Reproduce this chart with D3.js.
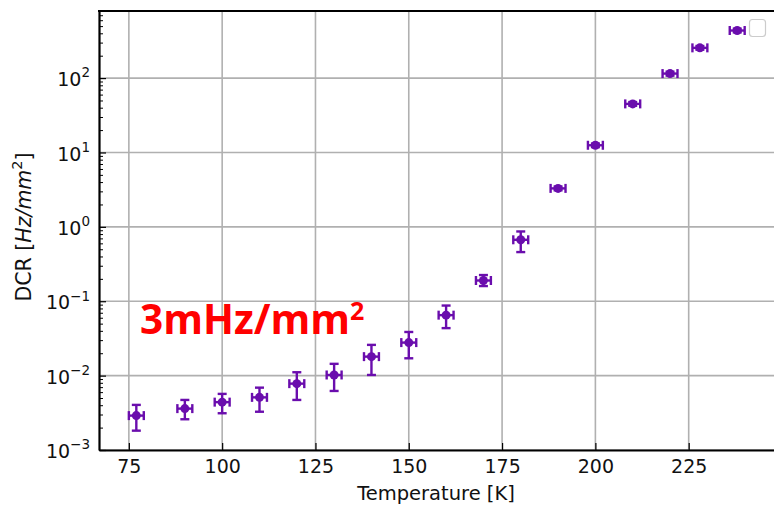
<!DOCTYPE html>
<html>
<head>
<meta charset="utf-8">
<script src="https://cdn.jsdelivr.net/npm/d3@7"></script>
<style>
  body { margin: 0; background: #fff; }
  svg { display: block; font-family: "DejaVu Sans", sans-serif; }
</style>
</head>
<body>
<div id="chart"></div>
<script>
// data
const temps = [77, 90, 100, 110, 120, 130, 140, 150, 160, 170, 180, 190, 200, 210, 220, 228, 238];
const dcr = [0.0029, 0.0036, 0.0044, 0.0051, 0.0078, 0.0102, 0.018, 0.0278, 0.065, 0.19, 0.67, 3.29, 12.5, 45, 115, 255, 436];
const dcrLow = [0.00182, 0.00259, 0.00312, 0.00327, 0.00471, 0.00622, 0.0102, 0.0171, 0.0435, 0.16, 0.458, 3.1, 11.8, 42.5, 108, 241, 412];
const dcrHigh = [0.00404, 0.00471, 0.00568, 0.00689, 0.0111, 0.0144, 0.0259, 0.0386, 0.0875, 0.225, 0.867, 3.48, 13.2, 47.6, 122, 270, 461];
const tempErr = [2, 2, 2, 2, 2, 2, 2, 2, 2, 2, 2, 2, 2, 2, 2, 2, 2];

const xTicks = [75, 100, 125, 150, 175, 200, 225];
const yTicks = [1e-3, 1e-2, 1e-1, 1e0, 1e1, 1e2];
const yExps = ["\u22123", "\u22122", "\u22121", "0", "1", "2"];

const width = 774, height = 505;
const plotLeft = 99, plotTop = 11, plotBottom = 450;
const purple = "#6a0dad";

const svg = d3.select("#chart")
    .append("svg")
    .attr("width", width)
    .attr("height", height);

const x = d3.scaleLinear().domain([67, 250]).range([plotLeft, 782]);
const y = d3.scaleLog().domain([1e-3, 798]).range([plotBottom, plotTop]);

//grid
svg.append("g")
    .selectAll("line")
    .data(xTicks)
    .enter()
    .append("line")
    .attr("x1", d => x(d)).attr("x2", d => x(d))
    .attr("y1", plotTop).attr("y2", plotBottom)
    .attr("stroke", "#b0b0b0")
    .attr("stroke-width", 1.6);

svg.append("g")
    .selectAll("line")
    .data(yTicks)
    .enter()
    .append("line")
    .attr("x1", plotLeft).attr("x2", width)
    .attr("y1", d => y(d)).attr("y2", d => y(d))
    .attr("stroke", "#b0b0b0")
    .attr("stroke-width", 1.6);

//x axis
const xAxis = svg.append("g")
    .attr("transform", `translate(0,${plotBottom})`)
    .call(d3.axisBottom(x)
        .tickValues(xTicks)
        .tickSize(-7)
        .tickSizeOuter(0)
        .tickPadding(10));
xAxis.select(".domain").attr("stroke-width", 2.2);
xAxis.selectAll(".tick line").attr("stroke-width", 1.2);
xAxis.selectAll("text")
    .attr("font-size", "19px")
    .attr("font-family", "DejaVu Sans")
    .attr("fill", "#111");

//y axis minor ticks
const minor = [];
for (let e = -3; e <= 2; e++) {
    for (let m = 2; m <= 9; m++) {
        const v = m * Math.pow(10, e);
        if (v <= 798) minor.push(v);
    }
}
svg.append("g")
    .attr("transform", `translate(${plotLeft},0)`)
    .call(d3.axisLeft(y).tickValues(minor).tickSize(-4).tickSizeOuter(0).tickFormat(""))
    .call(g => g.select(".domain").remove())
    .selectAll(".tick line").attr("stroke-width", 1);

//y axis major
const yAxis = svg.append("g")
    .attr("transform", `translate(${plotLeft},0)`)
    .call(d3.axisLeft(y)
        .tickValues(yTicks)
        .tickSize(-7)
        .tickSizeOuter(0)
        .tickPadding(9)
        .tickFormat(""));
yAxis.select(".domain").attr("stroke-width", 2.2);
yAxis.selectAll(".tick line").attr("stroke-width", 1.2);
yAxis.selectAll(".tick text")
    .attr("font-size", "19px")
    .attr("font-family", "DejaVu Sans")
    .attr("fill", "#111")
    .attr("dy", "0.4em")
    .each(function (d, i) {
        const t = d3.select(this);
        t.append("tspan").text("10");
        t.append("tspan").attr("font-size", "13.5px").attr("dy", "-0.65em").text(yExps[i]);
    });

//top spine
svg.append("line")
    .attr("x1", plotLeft - 1).attr("x2", width)
    .attr("y1", plotTop).attr("y2", plotTop)
    .attr("stroke", "#000")
    .attr("stroke-width", 2.2);

//error bars
const pts = temps.map((t, i) => ({t: t, v: dcr[i], lo: dcrLow[i], hi: dcrHigh[i], te: tempErr[i]}));
const eb = svg.append("g")
    .attr("stroke", purple)
    .attr("stroke-width", 2.4);

pts.forEach(function (d) {
    const cx = x(d.t), cy = y(d.v);
    const g = eb.append("g");
    g.append("line").attr("x1", cx).attr("x2", cx).attr("y1", y(d.lo)).attr("y2", y(d.hi));
    g.append("line").attr("x1", cx - 4.5).attr("x2", cx + 4.5).attr("y1", y(d.lo)).attr("y2", y(d.lo));
    g.append("line").attr("x1", cx - 4.5).attr("x2", cx + 4.5).attr("y1", y(d.hi)).attr("y2", y(d.hi));
    g.append("line").attr("x1", x(d.t - d.te)).attr("x2", x(d.t + d.te)).attr("y1", cy).attr("y2", cy);
    g.append("line").attr("x1", x(d.t - d.te)).attr("x2", x(d.t - d.te)).attr("y1", cy - 4.5).attr("y2", cy + 4.5);
    g.append("line").attr("x1", x(d.t + d.te)).attr("x2", x(d.t + d.te)).attr("y1", cy - 4.5).attr("y2", cy + 4.5);
});

svg.append("g")
    .selectAll("circle")
    .data(pts)
    .enter()
    .append("circle")
    .attr("cx", d => x(d.t))
    .attr("cy", d => y(d.v))
    .attr("r", 4.5)
    .attr("fill", purple);

//empty legend box
svg.append("rect")
    .attr("x", 749.5).attr("y", 19.5)
    .attr("width", 16).attr("height", 17)
    .attr("rx", 3)
    .attr("fill", "#fff")
    .attr("stroke", "#cccccc")
    .attr("stroke-width", 1.2);

//axis labels
svg.append("text")
    .attr("x", 436)
    .attr("y", 500)
    .attr("text-anchor", "middle")
    .attr("font-size", "19.5px")
    .attr("fill", "#111")
    .text("Temperature [K]");

const yl = svg.append("text")
    .attr("transform", "translate(31,227) rotate(-90)")
    .attr("text-anchor", "middle")
    .attr("font-size", "20.5px")
    .attr("fill", "#111");
yl.append("tspan").text("DCR [");
yl.append("tspan").attr("font-style", "italic").text("Hz/mm");
yl.append("tspan").attr("font-size", "14.5px").attr("dy", "-0.65em").text("2");
yl.append("tspan").attr("dy", "0.45em").text("]");

//annotation
const note = svg.append("text")
    .attr("x", 140)
    .attr("y", 334)
    .attr("font-family", "Open Sans")
    .attr("font-weight", "bold")
    .attr("font-size", "40.5px")
    .attr("fill", "#ff0000");
note.append("tspan").text("3mHz/mm");
note.append("tspan").attr("font-size", "25px").attr("dy", "-14").text("2");
</script>
</body>
</html>
